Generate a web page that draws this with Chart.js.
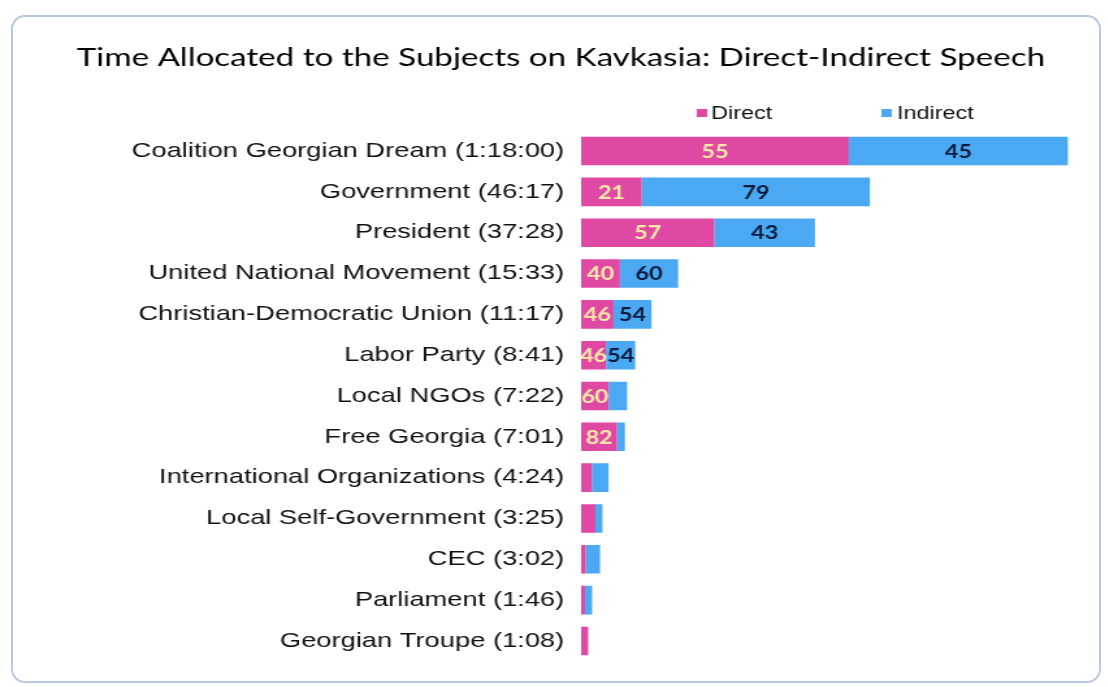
<!DOCTYPE html>
<html>
<head>
<meta charset="utf-8">
<script src="https://cdn.jsdelivr.net/npm/chart.js@4"></script>
<style>
  html, body { margin: 0; padding: 0; background: #fff; overflow: hidden; }
  #frame { position: absolute; left: 11px; top: 15px; width: 1086px; height: 664px;
           border: 2px solid #b9c8e2; border-radius: 14px; }
  #wrap { position: absolute; left: 0; top: 0; width: 852px; height: 687px;
          transform: scaleX(1.3); transform-origin: 0 0; }
</style>
</head>
<body>
<div id="frame"></div>
<div id="wrap"><canvas id="bar-chart"></canvas></div>
<script>
// subjects, with airtime as printed in the labels
var categories = ["Coalition Georgian Dream (1:18:00)", "Government (46:17)", "President (37:28)",
  "United National Movement (15:33)", "Christian-Democratic Union (11:17)", "Labor Party (8:41)",
  "Local NGOs (7:22)", "Free Georgia (7:01)", "International Organizations (4:24)",
  "Local Self-Government (3:25)", "CEC (3:02)", "Parliament (1:46)", "Georgian Troupe (1:08)"];
// total airtime in minutes (from the labels)
var totalMinutes = [78.00, 46.28, 37.47, 15.55, 11.28, 8.68, 7.37, 7.02, 4.40, 3.42, 3.03, 1.77, 1.13];
// share of direct / indirect speech, %
var directPct   = [55, 21, 57, 40, 46, 46, 60, 82, 40, 67, 25, 35, 100];
var indirectPct = [45, 79, 43, 60, 54, 54, 40, 18, 60, 33, 75, 65, 0];

var pink = "#df48a3", blue = "#4aa9f2";

var directMin = totalMinutes.map(function (t, i) { return t * directPct[i] / 100; });
var indirectMin = totalMinutes.map(function (t, i) { return t * indirectPct[i] / 100; });

// percent numbers inside the segments
var segLabels = {
  id: "segLabels",
  afterDatasetsDraw: function (chart) {
    var ctx = chart.ctx;
    ctx.save();
    ctx.font = "bold 18px Lato";
    ctx.textAlign = "center";
    ctx.textBaseline = "middle";
    chart.data.datasets.forEach(function (ds, d) {
      var pct = d === 0 ? directPct : indirectPct;
      ctx.fillStyle = d === 0 ? "#fdeaa8" : "#0d1b3d";
      chart.getDatasetMeta(d).data.forEach(function (bar, i) {
        var w = Math.abs(bar.x - bar.base);
        if (w < 17) return;
        ctx.fillText(pct[i], (bar.x + bar.base) / 2, bar.y + 1);
      });
    });
    ctx.restore();
  }
};

// legend placed over the bars like the original
var topLegend = {
  id: "topLegend",
  afterDraw: function (chart) {
    var ctx = chart.ctx, left = chart.chartArea.left;
    ctx.save();
    ctx.font = "18px 'Liberation Sans'";
    ctx.textBaseline = "middle";
    ctx.fillStyle = pink;
    ctx.fillRect(left + 89, 109, 8, 8);
    ctx.fillStyle = blue;
    ctx.fillRect(left + 231, 109, 8, 8);
    ctx.fillStyle = "#111";
    ctx.fillText("Direct", left + 100, 114);
    ctx.fillText("Indirect", left + 243, 114);
    ctx.restore();
  }
};

new Chart(document.getElementById("bar-chart"), {
  type: "bar",
  data: {
    labels: categories,
    datasets: [
      { label: "Direct", data: directMin, backgroundColor: pink },
      { label: "Indirect", data: indirectMin, backgroundColor: blue }
    ]
  },
  options: {
    indexAxis: "y",
    responsive: true,
    maintainAspectRatio: false,
    animation: false,
    categoryPercentage: 1,
    barPercentage: 0.7,
    layout: { padding: { top: 0, right: 21, bottom: 18, left: 32 } },
    scales: {
      x: { stacked: true, display: false, min: 0, max: 80 },
      y: {
        stacked: true,
        grid: { display: false, drawTicks: false },
        border: { display: false },
        ticks: { color: "#111", padding: 13, font: { family: "Liberation Sans", size: 21 } },
        afterFit: function (scale) { scale.width = 415; }
      }
    },
    plugins: {
      legend: { display: false },
      tooltip: { enabled: false },
      title: {
        display: true,
        text: "Time Allocated to the Subjects on Kavkasia: Direct-Indirect Speech",
        color: "#000",
        font: { family: "Lato", size: 25.5, weight: "normal" },
        padding: { top: 42, bottom: 58 }
      }
    }
  },
  plugins: [segLabels, topLegend]
});
</script>
</body>
</html>
